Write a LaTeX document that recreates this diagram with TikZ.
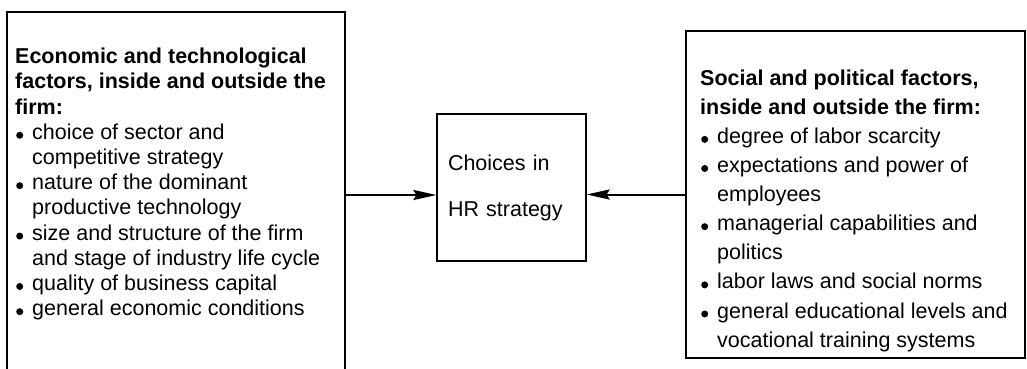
\documentclass[tikz,border=0pt]{standalone}
\usepackage{fontspec}
\setmainfont{Liberation Sans}
\usetikzlibrary{arrows.meta}

\newcommand{\itm}{\makebox[17pt][l]{\hspace*{1pt}\raisebox{0.6pt}{\tikz\fill (0,0) circle (3.5pt);}}}
\newcommand{\cnt}{\hspace*{17pt}}

\tikzset{
    factorbox/.style={draw, line width=1.2pt, inner sep=0pt},
    factortext/.style={anchor=north west, align=left, inner sep=0pt},
    arr/.style={-{Stealth[length=23pt, width=10pt, inset=3pt]}, line width=2pt}
}

\begin{document}
\begin{tikzpicture}[x=1pt, y=-1pt]
        \useasboundingbox (0,0) rectangle (1027,369);
        % the two outer boxes
        \node[factorbox, minimum width=338pt, minimum height=366pt] (econbox) at (176,195) {};
        \node[factorbox, minimum width=339pt, minimum height=327pt] (socbox) at (855.5,194.5) {};
        % middle box
        \node[factorbox, minimum width=149pt, minimum height=147pt, text width=127pt,
              inner xsep=11pt, align=left, font=\fontsize{21.5}{46}\selectfont] (hr) at (511.5,187.5)
              {Choices in\\HR strategy};
        % texts in the outer boxes
        \node[factortext, font=\fontsize{21.5}{25.2}\selectfont] (econ) at (15,48) {%
            \textbf{Economic and technological}\\
            \textbf{factors, inside and outside the}\\
            \textbf{firm:}\\
            \itm choice of sector and\\
            \cnt competitive strategy\\
            \itm nature of the dominant\\
            \cnt productive technology\\
            \itm size and structure of the firm\\
            \cnt and stage of industry life cycle\\
            \itm quality of business capital\\
            \itm general economic conditions};
        \node[factortext, font=\fontsize{21.5}{29.1}\selectfont] (soc) at (700,69.5) {%
            \textbf{Social and political factors,}\\
            \textbf{inside and outside the firm:}\\
            \itm degree of labor scarcity\\
            \itm expectations and power of\\
            \cnt employees\\
            \itm managerial capabilities and\\
            \cnt politics\\
            \itm labor laws and social norms\\
            \itm general educational levels and\\
            \cnt vocational training systems};
        % arrows
        \draw[arr] (econbox.east) -- (econbox.east -| hr.west);
        \draw[arr] (socbox.west) -- (socbox.west -| hr.east);
\end{tikzpicture}
\end{document}
